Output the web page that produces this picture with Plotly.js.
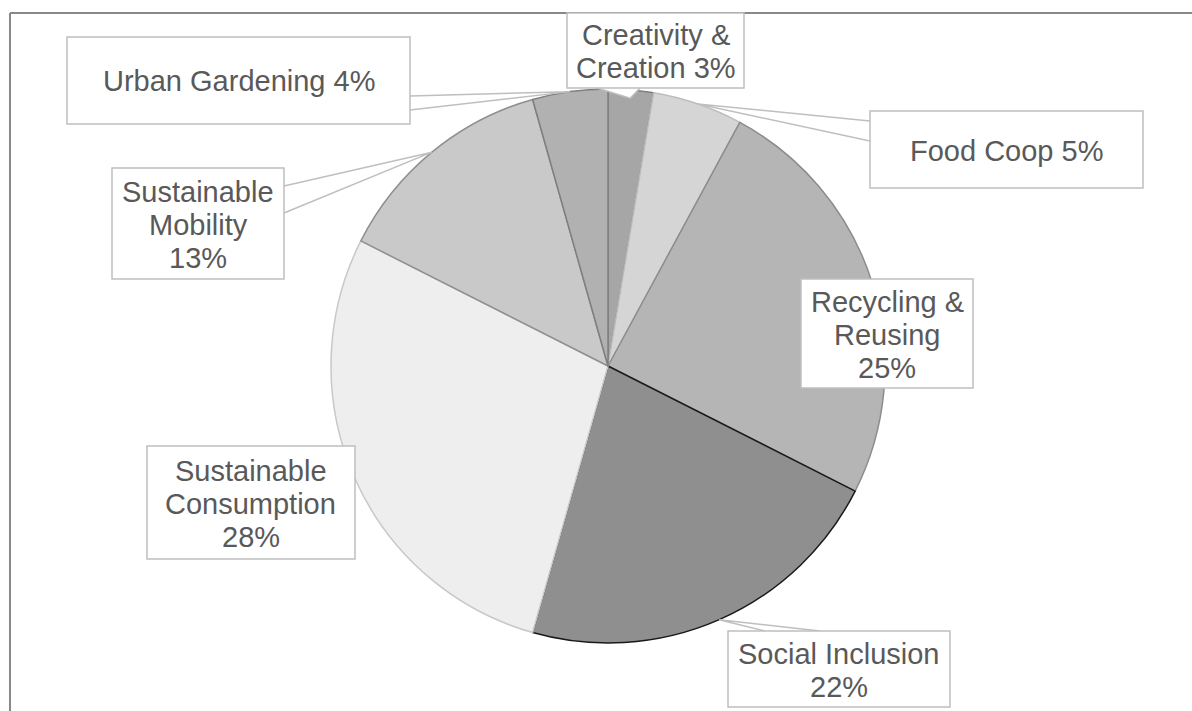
<!DOCTYPE html>
<html>
<head>
<meta charset="utf-8">
<script src="https://cdn.plot.ly/plotly-3.0.1.min.js"></script>
<style>html,body{margin:0;padding:0;background:#fff;}#chart{width:1192px;height:711px;}</style>
</head>
<body>
<div id="chart"></div>
<script>
// ---- data ----
const categories = ["Creativity & Creation", "Food Coop", "Recycling & Reusing", "Social Inclusion", "Sustainable Consumption", "Sustainable Mobility", "Urban Gardening"];
const counts = [3, 6, 28, 25, 32, 15, 5];

// ---- styling / layout (not data) ----
const W = 1192, H = 711;
const CX = 608, CY = 366, R = 277;
const LINE_H = 33, FONT_SIZE = 29;
const fillColors = ["#a6a6a6", "#d5d5d5", "#b5b5b5", "#8f8f8f", "#eeeeee", "#c9c9c9", "#b1b1b1"];
const lineColors = ["#7a7a7a", "#bdbdbd", "#8c8c8c", "#1a1a1a", "#c8c8c8", "#8f8f8f", "#7f7f7f"];

// label boxes in pixels: [left, top, right, bottom]; breaks = word indices starting a new line
const callouts = [
  {box: [567, 13, 744, 88],   breaks: [2], pctLine: false, base: [[597, 88], [640, 88]], rf: 0.97},
  {box: [870, 111, 1143, 188], breaks: [],  pctLine: false, base: [[870, 121], [870, 141]], rf: 1.0},
  {box: [801, 279, 973, 388], breaks: [2], pctLine: true,  base: null},
  {box: [728, 631, 950, 707], breaks: [],  pctLine: true,  base: [[765, 631], [820, 631]], rf: 1.0},
  {box: [147, 446, 355, 559], breaks: [1], pctLine: true,  base: null},
  {box: [112, 168, 284, 279], breaks: [1], pctLine: true,  base: [[284, 186], [284, 213]], rf: 1.0},
  {box: [67, 37, 410, 124],   breaks: [],  pctLine: false, base: [[410, 96], [410, 110]], rf: 1.0}
];

const px = x => x / W;
const py = y => 1 - y / H;

const total = counts.reduce((a, b) => a + b, 0);

const trace = {
  type: "pie",
  labels: categories,
  values: counts,
  sort: false,
  direction: "clockwise",
  rotation: 0,
  textinfo: "none",
  hoverinfo: "label+value+percent",
  showlegend: false,
  marker: {colors: fillColors, line: {color: lineColors, width: 1.5}},
  domain: {x: [px(CX - R), px(CX + R)], y: [py(CY + R), py(CY - R)]}
};

const annotations = [];
const wedgeShapes = [];
const boxShapes = [];
let cum = 0;
categories.forEach((name, i) => {
  const frac = counts[i] / total;
  const mid = cum + frac / 2;
  cum += frac;
  const c = callouts[i];
  const words = name.split(" ");
  const lines = [];
  let cur = "";
  words.forEach((w, k) => {
    if (k > 0 && c.breaks.includes(k)) { lines.push(cur); cur = w; }
    else cur = cur ? cur + " " + w : w;
  });
  const pct = Math.round(frac * 100) + "%";
  if (c.pctLine) { lines.push(cur); lines.push(pct); }
  else lines.push(cur + " " + pct);

  const [l, t, r, b] = c.box;
  if (c.base) {
    const ang = mid * 2 * Math.PI;
    const tx = CX + R * c.rf * Math.sin(ang);
    const ty = CY - R * c.rf * Math.cos(ang);
    wedgeShapes.push({
      type: "path", xref: "paper", yref: "paper", layer: "above",
      path: `M ${px(c.base[0][0])} ${py(c.base[0][1])} L ${px(tx)} ${py(ty)} L ${px(c.base[1][0])} ${py(c.base[1][1])}`,
      line: {color: "#bfbfbf", width: 1.5},
      fillcolor: "rgba(255,255,255,1)"
    });
  }
  boxShapes.push({
    type: "rect", xref: "paper", yref: "paper", layer: "above",
    x0: px(l), x1: px(r), y0: py(b), y1: py(t),
    line: {color: "#bfbfbf", width: 1.5},
    fillcolor: "#ffffff"
  });
  const cyBox = (t + b) / 2;
  const n = lines.length;
  lines.forEach((ln, k) => {
    annotations.push({
      xref: "paper", yref: "paper",
      x: px((l + r) / 2), y: py(cyBox + (k - (n - 1) / 2) * LINE_H + 1),
      xanchor: "center", yanchor: "middle",
      text: ln, showarrow: false,
      font: {family: "Liberation Sans, Arial, sans-serif", size: FONT_SIZE, color: "#595959"}
    });
  });
});

// open chart-area frame (left and top edges visible)
const frameShapes = [
  {type: "line", xref: "paper", yref: "paper", x0: px(10), y0: py(13), x1: px(10), y1: -0.05, line: {color: "#898989", width: 2}, layer: "below"},
  {type: "line", xref: "paper", yref: "paper", x0: px(10), y0: py(13), x1: 1.05, y1: py(13), line: {color: "#898989", width: 2}, layer: "below"}
];

const layout = {
  width: W, height: H,
  margin: {l: 0, r: 0, t: 0, b: 0},
  paper_bgcolor: "#ffffff",
  plot_bgcolor: "#ffffff",
  showlegend: false,
  annotations: annotations,
  shapes: frameShapes.concat(wedgeShapes, boxShapes)
};

Plotly.newPlot("chart", [trace], layout, {displayModeBar: false, staticPlot: true});
</script>
</body>
</html>
